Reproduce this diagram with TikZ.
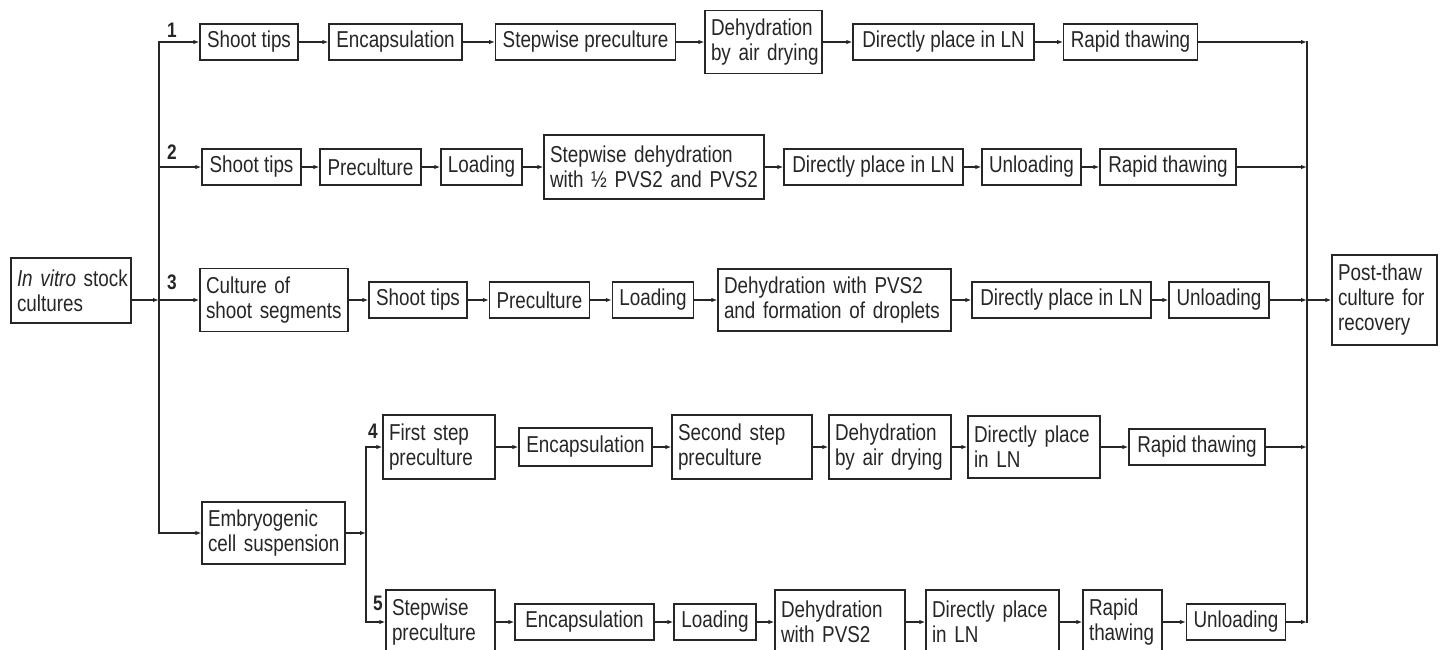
\documentclass[tikz,border=0pt]{standalone}
\usepackage{fontspec}
\setmainfont[FakeStretch=0.82]{Liberation Sans}
\usetikzlibrary{arrows.meta}

\definecolor{ink}{gray}{0.15}
\hyphenpenalty=10000
\exhyphenpenalty=10000
\hbadness=10000
\hfuzz=20pt
\tikzset{
	stage/.style={draw=ink, text=ink, line width=1.3pt, inner xsep=7pt, inner ysep=0pt, minimum height=36pt},
	twoline/.style={stage, align=left, inner xsep=6pt, minimum height=63pt},
	pathno/.style={text=ink, font=\fontsize{21}{25}\selectfont\bfseries},
	link/.style={draw=ink, line width=1.3pt, line cap=rect},
	flow/.style={draw=ink, line width=1.3pt, -{Latex[length=6pt,width=4.5pt]}}
}

\begin{document}
\begin{tikzpicture}[x=1pt, y=-1pt, font=\fontsize{23}{25}\selectfont]
	\useasboundingbox (0,0) rectangle (1440,649);
	\clip (0,0) rectangle (1440,649);

	% start and end
	\node[twoline, text width=108pt, minimum height=65pt] (vitro) at (71,290.5) {\textit{In~vitro}~stock\\cultures};
	\node[twoline, text width=131pt, minimum height=62pt] (emb) at (273.5,533) {Embryogenic\\cell~suspension};
	\node[twoline, text width=93pt, minimum height=90pt] (post) at (1384.5,300) {Post-thaw\\culture~for\\recovery};

	% path 1
	\node[stage, minimum width=98pt] (a1) at (249,42) {Shoot tips};
	\node[stage, minimum width=133pt] (a2) at (395.5,42) {Encapsulation};
	\node[stage, minimum width=179pt] (a3) at (585.5,42) {Stepwise preculture};
	\node[twoline, text width=105pt] (a4) at (763.5,42) {Dehydration\\by~air~drying};
	\node[stage, minimum width=181pt] (a5) at (943.5,42) {Directly place in LN};
	\node[stage, minimum width=133pt] (a6) at (1130.5,42) {Rapid thawing};

	% path 2
	\node[stage, minimum width=99pt] (b1) at (251.5,167) {Shoot tips};
	\node[stage, minimum width=101pt] (b2) at (370.5,167) {Preculture};
	\node[stage, minimum width=81pt] (b3) at (481.5,167) {Loading};
	\node[twoline, text width=208pt, minimum height=64pt] (b4) at (654,167) {Stepwise~dehydration\\with~½~PVS2~and~PVS2};
	\node[stage, minimum width=179pt] (b5) at (873.5,167) {Directly place in LN};
	\node[stage, minimum width=99pt] (b6) at (1031.5,167) {Unloading};
	\node[stage, minimum width=136pt] (b7) at (1168,167) {Rapid thawing};

	% path 3
	\node[twoline, text width=136pt] (c1) at (274,300) {Culture~of\\shoot~segments};
	\node[stage, minimum width=98pt] (c2) at (418,300) {Shoot tips};
	\node[stage, minimum width=99pt] (c3) at (539.5,300) {Preculture};
	\node[stage, minimum width=80pt] (c4) at (653,300) {Loading};
	\node[twoline, text width=221pt, minimum height=62pt] (c5) at (834.5,300) {Dehydration~with~PVS2\\and~formation~of~droplets};
	\node[stage, minimum width=179pt] (c6) at (1061.5,300) {Directly place in LN};
	\node[stage, minimum width=100pt] (c7) at (1219,300) {Unloading};

	% path 4
	\node[twoline, text width=100pt, minimum height=64pt] (d1) at (439,447) {First~step\\preculture};
	\node[stage, minimum width=133pt, minimum height=38pt] (d2) at (585.5,447) {Encapsulation};
	\node[twoline, text width=128pt, minimum height=64pt] (d3) at (742,447) {Second~step\\preculture};
	\node[twoline, text width=110pt, minimum height=64pt] (d4) at (890,447) {Dehydration\\by~air~drying};
	\node[twoline, text width=120pt, minimum height=62pt] (d5) at (1034,447) {Directly~place\\in~LN};
	\node[stage, minimum width=136pt] (d6) at (1197,447) {Rapid thawing};

	% path 5
	\node[twoline, text width=97pt, minimum height=64pt] (e1) at (440.5,622) {Stepwise\\preculture};
	\node[stage, minimum width=139pt] (e2) at (584.5,622) {Encapsulation};
	\node[stage, minimum width=82pt] (e3) at (715,622) {Loading};
	\node[twoline, text width=118pt, minimum height=64pt] (e4) at (840,622) {Dehydration\\with~PVS2};
	\node[twoline, text width=121pt, minimum height=64pt] (e5) at (992.5,622) {Directly~place\\in~LN};
	\node[twoline, text width=67pt, minimum height=64pt] (e6) at (1122.5,622) {Rapid\\thawing};
	\node[stage, minimum width=98pt] (e7) at (1236,622) {Unloading};

	% path numbers
	\node[pathno] (n1) at (172,30) {1};
	\node[pathno] (n2) at (172,152) {2};
	\node[pathno] (n3) at (172,282) {3};
	\node[pathno] (n4) at (373,431) {4};
	\node[pathno] (n5) at (378,603) {5};

	% branch points
	\coordinate (L1) at (159,42);
	\coordinate (L2) at (159,167);
	\coordinate (L3) at (159,300);
	\coordinate (L4) at (159,533);
	\coordinate (M0) at (366,533);
	\coordinate (M4) at (366,447);
	\coordinate (M5) at (366,622);
	\coordinate (R1) at (1307,42);
	\coordinate (R2) at (1307,167);
	\coordinate (R3) at (1307,300);
	\coordinate (R4) at (1307,447);
	\coordinate (R5) at (1307,622);

	% left side
	\draw[flow] (vitro.east |- L3) -- (L3);
	\draw[link] (L1) -- (L4);
	\draw[flow] (L1) -- (a1);
	\draw[flow] (L2) -- (b1);
	\draw[flow] (L3) -- (c1);
	\draw[flow] (L4) -- (emb);
	\draw[flow] (emb) -- (M0);
	\draw[link] (M4) -- (M5);
	\draw[flow] (M4) -- (d1);
	\draw[flow] (M5) -- (e1);

	% steps
	\draw[flow] (a1) -- (a2);
	\draw[flow] (a2) -- (a3);
	\draw[flow] (a3) -- (a4);
	\draw[flow] (a4) -- (a5);
	\draw[flow] (a5) -- (a6);
	\draw[flow] (b1) -- (b2);
	\draw[flow] (b2) -- (b3);
	\draw[flow] (b3) -- (b4);
	\draw[flow] (b4) -- (b5);
	\draw[flow] (b5) -- (b6);
	\draw[flow] (b6) -- (b7);
	\draw[flow] (c1) -- (c2);
	\draw[flow] (c2) -- (c3);
	\draw[flow] (c3) -- (c4);
	\draw[flow] (c4) -- (c5);
	\draw[flow] (c5) -- (c6);
	\draw[flow] (c6) -- (c7);
	\draw[flow] (d1) -- (d2);
	\draw[flow] (d2) -- (d3);
	\draw[flow] (d3) -- (d4);
	\draw[flow] (d4) -- (d5);
	\draw[flow] (d5) -- (d6);
	\draw[flow] (e1) -- (e2);
	\draw[flow] (e2) -- (e3);
	\draw[flow] (e3) -- (e4);
	\draw[flow] (e4) -- (e5);
	\draw[flow] (e5) -- (e6);
	\draw[flow] (e6) -- (e7);

	% right side
	\draw[flow] (a6) -- (R1);
	\draw[flow] (b7) -- (R2);
	\draw[flow] (c7) -- (R3);
	\draw[flow] (d6) -- (R4);
	\draw[flow] (e7) -- (R5);
	\draw[link] (R1) -- (R5);
	\draw[flow] (R3) -- (post);
\end{tikzpicture}
\end{document}
